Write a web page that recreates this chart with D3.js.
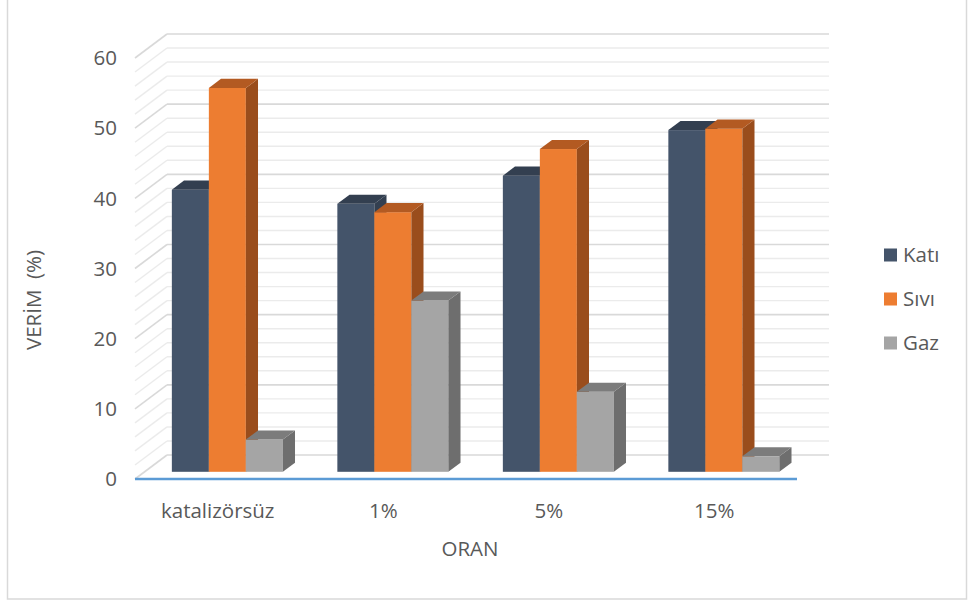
<!DOCTYPE html>
<html><head><meta charset="utf-8">
<script src="https://cdn.jsdelivr.net/npm/d3@7"></script>
<style>body{margin:0;background:#fff}svg{display:block}text{font-family:"Open Sans",sans-serif;fill:#595959}</style>
</head><body><svg id="c" width="968" height="603"></svg>
<script>
const categories = ["katalizörsüz", "1%", "5%", "15%"];
const seriesNames = ["Katı", "Sıvı", "Gaz"];
const katiValues = [40.2, 38.2, 42.2, 48.7];
const siviValues = [54.7, 37.0, 46.0, 48.9];
const gazValues  = [4.6, 24.4, 11.4, 2.2];
const yTicks = [0, 10, 20, 30, 40, 50, 60];
const seriesValues = [katiValues, siviValues, gazValues];

const colors = {
  front: ["#44546A", "#ED7D31", "#A5A5A5"],
  side:  ["#333F50", "#9A4D1C", "#6E6E6E"],
  top:   ["#333F50", "#B35A22", "#7C7C7C"]
};
const FS = 20.5;

const svg = d3.select("#c");
// frame
svg.append("rect").attr("x", 7.5).attr("y", -1).attr("width", 959).attr("height", 600)
  .attr("fill", "#fff").attr("stroke", "#d9d9d9").attr("stroke-width", 1.5);

const x0 = 135, x1 = 797;
const depth = {dx: 32, dy: -24};
const y = d3.scaleLinear().domain([0, 60]).range([479, 58]);
const xCat = d3.scaleBand().domain(categories).range([x0, x1]);
const barW = 37;
const xSer = d3.scaleBand().domain(seriesNames)
  .range([(xCat.bandwidth() - 3 * barW) / 2, (xCat.bandwidth() + 3 * barW) / 2]);
const dFront = 0.3, dBack = 0.68;

// gridlines
const g = svg.append("g");
d3.range(0, 61, 2).forEach(v => {
  const major = v % 10 === 0;
  const col = major ? "#d9d9d9" : "#ebebeb";
  const yf = y(v), yb = y(v) + depth.dy;
  g.append("line").attr("x1", x0).attr("y1", yf).attr("x2", x0 + depth.dx).attr("y2", yb)
    .attr("stroke", col).attr("stroke-width", major ? 1.6 : 1.4);
  g.append("line").attr("x1", x0 + depth.dx).attr("y1", yb).attr("x2", x1 + depth.dx).attr("y2", yb)
    .attr("stroke", col).attr("stroke-width", major ? 1.6 : 1.4);
});

// axis line
svg.append("line").attr("x1", x0).attr("x2", x1).attr("y1", 479).attr("y2", 479)
  .attr("stroke", "#5B9BD5").attr("stroke-width", 2.5);

// bars
const bars = svg.append("g");
categories.forEach((c, ci) => {
  seriesNames.forEach((s, si) => {
    const v = seriesValues[si][ci];
    const fx = xCat(c) + xSer(s) + depth.dx * dFront;
    const fy0 = y(0) + depth.dy * dFront;
    const fy1 = y(v) + depth.dy * dFront;
    const ddx = depth.dx * (dBack - dFront), ddy = depth.dy * (dBack - dFront);
    bars.append("rect").attr("x", fx).attr("y", fy1).attr("width", barW).attr("height", fy0 - fy1)
      .attr("fill", colors.front[si]);
    bars.append("path").attr("d", `M${fx + barW},${fy1}L${fx + barW + ddx},${fy1 + ddy}L${fx + barW + ddx},${fy0 + ddy}L${fx + barW},${fy0}Z`)
      .attr("fill", colors.side[si]);
    bars.append("path").attr("d", `M${fx},${fy1}L${fx + ddx},${fy1 + ddy}L${fx + barW + ddx},${fy1 + ddy}L${fx + barW},${fy1}Z`)
      .attr("fill", colors.top[si]);
  });
});

// y tick labels
svg.append("g").selectAll("text").data(yTicks).join("text")
  .attr("x", 117).attr("y", d => y(d)).attr("dy", "0.35em").attr("text-anchor", "end")
  .attr("font-size", FS).text(d => d);

// x tick labels
svg.append("g").selectAll("text").data(categories).join("text")
  .attr("x", d => xCat(d) + xCat.bandwidth() / 2).attr("y", 511).attr("dy", "0.35em")
  .attr("text-anchor", "middle").attr("font-size", FS).text(d => d);

// axis titles
svg.append("text").attr("x", 470).attr("y", 549).attr("dy", "0.35em").attr("text-anchor", "middle")
  .attr("font-size", FS).text("ORAN");
svg.append("text").attr("transform", "translate(34,300) rotate(-90)").attr("dy", "0.35em")
  .attr("text-anchor", "middle").attr("font-size", FS).attr("xml:space", "preserve").text("VERİM  (%)");

// legend
const leg = svg.append("g");
seriesNames.forEach((s, i) => {
  const ly = 255 + i * 44;
  leg.append("rect").attr("x", 884).attr("y", ly - 6.5).attr("width", 13).attr("height", 13).attr("fill", colors.front[i]);
  leg.append("text").attr("x", 903).attr("y", ly).attr("dy", "0.35em").attr("font-size", FS).text(s);
});
</script></body></html>
